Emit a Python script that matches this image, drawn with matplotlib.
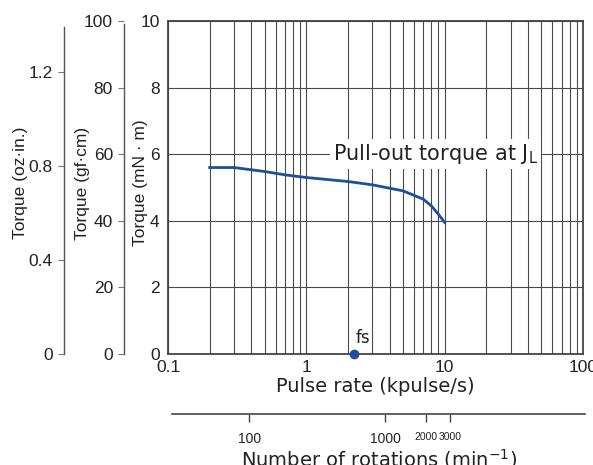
import numpy as np
import matplotlib.pyplot as plt
from matplotlib.ticker import FixedLocator, NullFormatter

# data
pulse_rate = [0.2, 0.3, 0.5, 0.7, 1, 2, 3, 5, 7, 8, 9, 10]       # kpulse/s
torque_mnm = [5.6, 5.6, 5.48, 5.38, 5.3, 5.18, 5.08, 4.9, 4.65, 4.45, 4.2, 3.95]
fs_rate = 2.2
x_ticks = [0.1, 1, 10, 100]
x_labels = ["0.1", "1", "10", "100"]
mnm_ticks = [0, 2, 4, 6, 8, 10]
gfcm_ticks = [0, 20, 40, 60, 80, 100]
ozin_ticks = [0, 0.4, 0.8, 1.2]
ozin_labels = ["0", "0.4", "0.8", "1.2"]
rpm_ticks = [100, 1000, 2000, 3000]
rpm_labels = ["100", "1000", "2000", "3000"]
rpm_sizes = [10, 10, 7.5, 7.5]

plt.rcParams['font.family'] = ['Liberation Sans', 'DejaVu Sans']
txt = '#222222'
grid_c = '#4a4a4a'

fig = plt.figure(figsize=(5.93, 4.65), dpi=100)
W, H = 593, 465
bot = (H - 354) / H
hgt = 333 / H

ax = fig.add_axes([168 / W, bot, 415 / W, hgt])
ax.set_xscale('log')
ax.set_xlim(0.1, 100)
ax.set_ylim(0, 10)
ax.plot(pulse_rate, torque_mnm, color='#1c4f9c', lw=2, zorder=3)
ax.plot([fs_rate], [0], 'o', color='#1c4f9c', ms=6, clip_on=False, zorder=5)
ax.text(fs_rate * 1.03, 0.2, 'fs', ha='left', va='bottom', fontsize=12,
        family='DejaVu Sans', color=txt, zorder=4)

ax.xaxis.set_major_locator(FixedLocator(x_ticks))
ax.set_xticklabels(x_labels)
minors = [m * d for d in [0.1, 1, 10] for m in range(2, 10)]
ax.xaxis.set_minor_locator(FixedLocator(minors))
ax.xaxis.set_minor_formatter(NullFormatter())
ax.set_yticks(mnm_ticks)
ax.grid(True, which='both', color=grid_c, lw=0.8)
ax.tick_params(which='both', length=0, labelsize=12.5, colors=txt)
ax.tick_params(axis='y', pad=6)
ax.tick_params(axis='x', pad=4)
for s in ax.spines.values():
    s.set_color('#444444')
    s.set_linewidth(1.3)
ax.set_xlabel('Pulse rate (kpulse/s)', fontsize=14, family='DejaVu Sans',
              color=txt, labelpad=2)

ax.text(1.56, 6, r'Pull-out torque at J$_{\mathregular{L}}$', fontsize=15,
        family='DejaVu Sans', color=txt, va='center', ha='left',
        bbox=dict(facecolor='white', edgecolor='none', pad=2), zorder=4)

# y labels placed at pixel columns of the reference
ylab_y = (H - 183) / H
for xp, name in [(140, 'Torque (mN · m)'), (83, 'Torque (gf·cm)'),
                 (21, 'Torque (oz·in.)')]:
    fig.text(xp / W, ylab_y, name, rotation=90, ha='center',
             va='center', fontsize=12.5, color=txt)


def side_axis(xpix, top, ticks, labels, spine_top):
    a = fig.add_axes([xpix / W, bot, 0.0001, hgt])
    a.set_ylim(0, top)
    a.set_xticks([])
    for k in ['top', 'right', 'bottom']:
        a.spines[k].set_visible(False)
    a.spines['left'].set_color('#555555')
    a.spines['left'].set_linewidth(1)
    a.spines['left'].set_bounds(0, spine_top)
    a.set_yticks(ticks)
    a.set_yticklabels(labels)
    a.tick_params(axis='y', length=4, width=0.8, color='#777777',
                  labelsize=12.5, labelcolor=txt, pad=4)
    return a


side_axis(124, 100, gfcm_ticks, [str(t) for t in gfcm_ticks], 99)
side_axis(64, 1.416, ozin_ticks, ozin_labels, 1.39)

# rotation speed axis under the chart
r = fig.add_axes([172 / W, (H - 414) / H, 413 / W, 0.0001])
r.set_xscale('log')
r.set_xlim(27, 29400)
r.set_yticks([])
for k in ['top', 'left', 'right']:
    r.spines[k].set_visible(False)
r.spines['bottom'].set_color('#444444')
r.spines['bottom'].set_linewidth(1.2)
r.xaxis.set_major_locator(FixedLocator(rpm_ticks))
r.set_xticklabels(rpm_labels)
r.xaxis.set_minor_locator(FixedLocator([]))
r.tick_params(axis='x', length=6, width=1, color='#444444',
              labelcolor=txt, pad=7)
for lab, fsz in zip(r.get_xticklabels(), rpm_sizes):
    lab.set_fontsize(fsz)
r.set_xlabel('Number of rotations (min$^{-1}$)', fontsize=14,
             family='DejaVu Sans', color=txt, labelpad=1)

fig.savefig('out.png', dpi=100)
